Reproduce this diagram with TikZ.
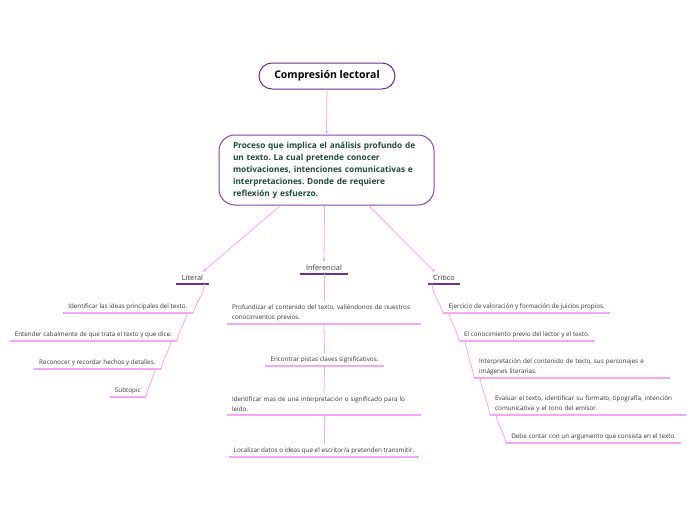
\documentclass[tikz,border=0pt]{standalone}
\usepackage{fontspec}
\setmainfont{Open Sans}
\frenchspacing
\definecolor{titleviolet}{HTML}{6A2C8E}
\definecolor{boxviolet}{HTML}{7E4A9E}
\definecolor{topicviolet}{HTML}{6B3094}
\definecolor{deepgreen}{HTML}{1E4B3A}
\definecolor{linkpink}{HTML}{F6A6F2}
\definecolor{inktext}{HTML}{333333}
\usetikzlibrary{arrows.meta}

\begin{document}
\begin{tikzpicture}[x=1pt, y=-1pt,
  central/.style={draw=titleviolet, line width=1pt, fill=white,
    rounded corners=13pt, minimum width=136pt, minimum height=26pt,
    font=\fontsize{10.5}{12}\selectfont\bfseries, text=black},
  mainbox/.style={draw=boxviolet, line width=1pt, fill=white,
    rounded corners=16pt, minimum width=215pt, minimum height=70pt,
    inner xsep=14pt, text width=187pt, align=left,
    font=\fontsize{8.3}{12}\selectfont\bfseries, text=deepgreen},
  topic/.style={font=\fontsize{7.3}{9}\selectfont, text=inktext,
    inner xsep=0pt, inner ysep=3pt, anchor=south},
  leaf/.style={font=\fontsize{6.3}{10}\selectfont, text=inktext,
    inner xsep=5pt, inner ysep=3pt},
  link/.style={draw=linkpink, line width=0.8pt},
  pointer/.style={link, -{Stealth[length=4pt, width=3.5pt]}},
  topicline/.style={draw=topicviolet, line width=1.3pt},
  leafline/.style={draw=linkpink, line width=1.2pt},
]
  \useasboundingbox (0,0) rectangle (696,520);

  \node[central] (title) at (327,76) {Compresión lectoral};
  \node[mainbox] (main) at (326.5,170)
    {Proceso que implica el análisis profundo de\\ un texto. La cual pretende conocer\\
     motivaciones, intenciones comunicativas e\\ interpretaciones. Donde de requiere\\
     reflexión y esfuerzo.};

  \node[topic, minimum width=33pt] (lit) at (192.5,284) {Literal};
  \node[topic, minimum width=48pt] (inf) at (324,274) {Inferencial};
  \node[topic, minimum width=32pt] (crit) at (444,284) {Critico};
  \foreach \t in {lit,inf,crit}
    \draw[topicline] (\t.south west) -- (\t.south east);

  \draw[pointer] (title.south) -- (main.north);
  \draw[pointer] ([xshift=-46pt]main.south) -- ([xshift=10pt]lit.north);
  \draw[pointer] ([xshift=-2pt]main.south) -- (inf.north);
  \draw[pointer] ([xshift=42pt]main.south) -- ([xshift=-9pt]crit.north);

  \node[leaf, minimum width=130pt, anchor=south east] (l1) at (193,313)
    {Identificar las ideas principales del texto.};
  \node[leaf, minimum width=167pt, anchor=south east] (l2) at (177,341)
    {Entender cabalmente de que trata el texto y que dice.};
  \node[leaf, minimum width=127pt, anchor=south east] (l3) at (161,369)
    {Reconocer y recordar hechos y detalles.};
  \node[leaf, minimum width=36pt, anchor=south east] (l4) at (146,397)
    {Subtopic};

  \node[leaf, text width=184pt, align=left, anchor=south] (i1) at (324,324)
    {Profundizar el contenido del texto, valiéndonos de nuestros\\ conocimientos previos.};
  \node[leaf, minimum width=119pt, anchor=south] (i2) at (324.5,366)
    {Encontrar pistas claves significativos.};
  \node[leaf, text width=184pt, align=left, anchor=south] (i3) at (324,415)
    {Identificar mas de una interpretación o significado para lo\\ leído.};
  \node[leaf, minimum width=190pt, anchor=south] (i4) at (324,457)
    {Localizar datos o ideas que el escritor/a pretenden transmitir.};

  \node[leaf, minimum width=167pt, anchor=south west] (c1) at (443,313)
    {Ejercicio de valoración y formación de juicios propios.};
  \node[leaf, minimum width=135pt, anchor=south west] (c2) at (459,341)
    {El conocimiento previo del lector y el texto.};
  \node[leaf, text width=186pt, align=left, anchor=south west] (c3) at (474,378)
    {Interpretación del contenido de texto, sus personajes e\\ imágenes literarias.};
  \node[leaf, text width=186pt, align=left, anchor=south west] (c4) at (490,415)
    {Evaluar el texto, identificar su formato, tipografía, intención\\ comunicativa y el tono del emisor.};
  \node[leaf, minimum width=175pt, anchor=south west] (c5) at (506,443)
    {Debe contar con un argumento que consista en el texto.};

  \foreach \n in {l1,l2,l3,l4,i1,i2,i3,i4,c1,c2,c3,c4,c5}
    \draw[leafline] (\n.south west) -- (\n.south east);

  \draw[link] ([xshift=12pt]lit.south) to[out=-95, in=75] (l1.south east);
  \draw[link] ([xshift=-6pt]l1.south east) to[out=-100, in=80] (l2.south east);
  \draw[link] ([xshift=-6pt]l2.south east) to[out=-100, in=80] (l3.south east);
  \draw[link] ([xshift=-6pt]l3.south east) to[out=-100, in=80] (l4.south east);

  \draw[link] (inf.south) -- (i1.north);
  \draw[link] (i1.south) -- (i2.north);
  \draw[link] (i2.south) -- (i3.north);
  \draw[link] (i3.south) -- (i4.north);

  \draw[link] ([xshift=-12pt]crit.south) to[out=-85, in=105] (c1.south west);
  \draw[link] ([xshift=6pt]c1.south west) to[out=-80, in=100] (c2.south west);
  \draw[link] ([xshift=6pt]c2.south west) to[out=-80, in=100] (c3.south west);
  \draw[link] ([xshift=6pt]c3.south west) to[out=-80, in=100] (c4.south west);
  \draw[link] ([xshift=6pt]c4.south west) to[out=-80, in=100] (c5.south west);
\end{tikzpicture}
\end{document}
